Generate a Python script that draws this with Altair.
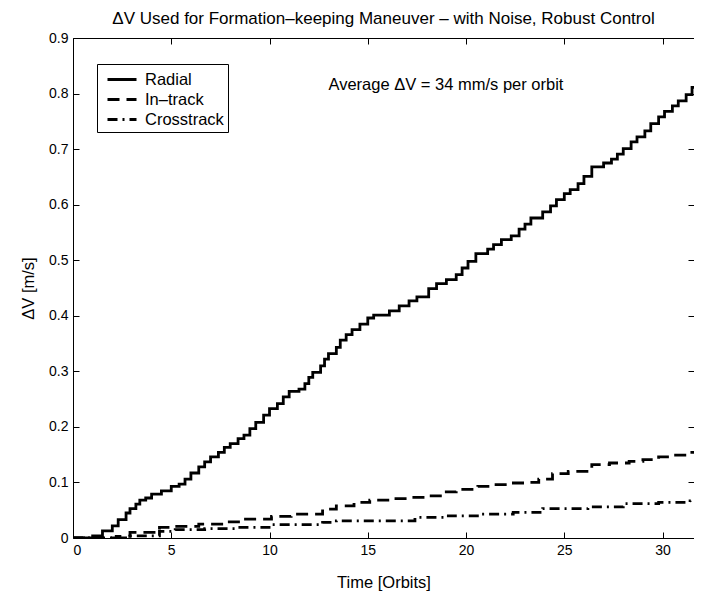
import altair as alt
import pandas as pd

# ---- data ----
radial_t = [0, 1.0, 1.5, 2.0, 2.3, 2.7, 2.9, 3.2, 3.4, 3.7, 4.0, 4.5, 5.0, 5.4, 5.7, 6.0, 6.4, 6.7,
            7.0, 7.4, 7.7, 8.0, 8.4, 8.7, 9.0, 9.3, 9.7, 10.0, 10.4, 10.7, 11.0, 11.5, 11.8, 12.0,
            12.2, 12.6, 12.8, 13.0, 13.4, 13.6, 13.9, 14.2, 14.6, 15.0, 15.3, 16.1, 16.6, 17.1,
            17.5, 18.1, 18.5, 19.0, 19.5, 19.8, 20.1, 20.5, 21.1, 21.4, 21.8, 22.3, 22.7, 23.0,
            23.3, 23.9, 24.3, 24.6, 25.0, 25.3, 25.7, 26.0, 26.4, 27.0, 27.4, 27.7, 28.0, 28.4,
            28.7, 29.1, 29.4, 29.8, 30.1, 30.5, 30.8, 31.2, 31.5, 31.7]
radial_v = [0, 0.004, 0.013, 0.022, 0.033, 0.045, 0.053, 0.061, 0.068, 0.072, 0.079, 0.085, 0.093,
            0.097, 0.106, 0.117, 0.128, 0.137, 0.146, 0.154, 0.163, 0.170, 0.179, 0.185, 0.197,
            0.208, 0.221, 0.233, 0.242, 0.254, 0.264, 0.268, 0.278, 0.289, 0.298, 0.310, 0.322,
            0.332, 0.343, 0.356, 0.366, 0.375, 0.385, 0.396, 0.401, 0.409, 0.418, 0.427, 0.434,
            0.449, 0.458, 0.465, 0.474, 0.486, 0.498, 0.512, 0.520, 0.528, 0.537, 0.544, 0.556,
            0.565, 0.576, 0.587, 0.598, 0.609, 0.620, 0.627, 0.638, 0.651, 0.668, 0.675, 0.682,
            0.691, 0.701, 0.713, 0.722, 0.733, 0.746, 0.758, 0.768, 0.778, 0.787, 0.798, 0.811,
            0.818]

intrack_t = [0, 2.2, 2.9, 4.4, 5.2, 6.4, 7.7, 8.7, 10.1, 11.1, 12.7, 13.4, 14.3, 15.1, 16.1,
             17.2, 17.9, 18.8, 19.5, 20.6, 21.3, 22.1, 23.1, 23.7, 24.4, 25.2, 26.4, 27.3,
             28.3, 29.0, 29.8, 30.5, 31.3, 31.7]
intrack_v = [0, 0.003, 0.010, 0.019, 0.021, 0.025, 0.029, 0.034, 0.039, 0.043, 0.052, 0.058,
             0.064, 0.068, 0.071, 0.073, 0.076, 0.083, 0.0875, 0.093, 0.096, 0.099, 0.100,
             0.106, 0.116, 0.120, 0.132, 0.135, 0.138, 0.141, 0.146, 0.149, 0.154, 0.155]

cross_t = [0, 2.9, 4.4, 5.2, 6.7, 8.4, 10.1, 12.7, 13.4, 17.4, 19.1, 20.7, 22.4, 23.9, 26.2,
           28.0, 29.8, 31.4, 31.7]
cross_v = [0, 0.004, 0.012, 0.015, 0.017, 0.019, 0.024, 0.028, 0.031, 0.037, 0.040, 0.043,
           0.046, 0.053, 0.056, 0.062, 0.064, 0.067, 0.067]

series_names = ["Radial", "In\u2013track", "Crosstrack"]
series_dash = [[1, 0], [12, 7], [10, 5, 2, 5]]

ann_x = [13.0]
ann_y = [0.815]
ann_text = ["Average \u0394V = 34 mm/s per orbit"]

x_ticks = [0, 5, 10, 15, 20, 25, 30]
y_ticks = [0, 0.1, 0.2, 0.3, 0.4, 0.5, 0.6, 0.7, 0.8, 0.9]

rows = []
for name, ts, vs in zip(series_names, [radial_t, intrack_t, cross_t], [radial_v, intrack_v, cross_v]):
    for i, (t, v) in enumerate(zip(ts, vs)):
        rows.append({"series": name, "t": t, "v": v, "order": i})
df = pd.DataFrame(rows)
ann_df = pd.DataFrame({"x": ann_x, "y": ann_y, "text": ann_text})

FONT = "Liberation Sans"
xscale = alt.Scale(domain=[0, 31.6], nice=False, zero=False)
yscale = alt.Scale(domain=[0, 0.9], nice=False)
ylabel_expr = "datum.value == 0 ? '0' : format(datum.value, '.1f')"

lines = alt.Chart(df).mark_line(interpolate="step-after", color="black", strokeWidth=2.8,
                                clip=True).encode(
    x=alt.X("t:Q", scale=xscale,
            axis=alt.Axis(values=x_ticks, title="Time [Orbits]", offset=-6, tickSize=6,
                          domain=False, grid=False, labelPadding=5, titlePadding=17,
                          tickColor="black", labelColor="black", titleColor="black",
                          labelFont=FONT, titleFont=FONT, labelFontSize=14, titleFontSize=16.5,
                          titleFontWeight="normal")),
    y=alt.Y("v:Q", scale=yscale,
            axis=alt.Axis(values=y_ticks, labelExpr=ylabel_expr, title="\u0394V [m/s]",
                          offset=-6, tickSize=6, domain=False, grid=False, labelPadding=5,
                          titlePadding=12, tickColor="black", labelColor="black",
                          titleColor="black", labelFont=FONT, titleFont=FONT,
                          labelFontSize=14, titleFontSize=16.5, titleFontWeight="normal")),
    strokeDash=alt.StrokeDash("series:N",
                              scale=alt.Scale(domain=series_names, range=series_dash),
                              legend=alt.Legend(title=None, orient="none", legendX=24, legendY=26,
                                                symbolType="M-0.5,0H2.4", symbolSize=400,
                                                symbolStrokeColor="black", symbolStrokeWidth=2.8,
                                                labelFont=FONT, labelFontSize=16.5,
                                                labelColor="black", labelOffset=21,
                                                strokeColor="black", fillColor="white",
                                                padding=4, rowPadding=0, cornerRadius=0)),
    detail="series:N",
    order="order:Q",
)

ann = alt.Chart(ann_df).mark_text(align="left", baseline="middle", font=FONT, fontSize=16.5,
                                  color="black").encode(
    x=alt.X("x:Q", scale=xscale,
            axis=alt.Axis(orient="top", values=x_ticks, labels=False, title=None, offset=-6,
                          tickSize=6, domain=False, grid=False, tickColor="black")),
    y=alt.Y("y:Q", scale=yscale,
            axis=alt.Axis(orient="right", values=y_ticks, labels=False, title=None, offset=-6,
                          tickSize=6, domain=False, grid=False, tickColor="black")),
    text="text:N",
)

chart = alt.layer(lines, ann).resolve_axis(x="independent", y="independent").properties(
    width=621, height=500,
    title=alt.TitleParams("\u0394V Used for Formation\u2013keeping Maneuver \u2013 with Noise, Robust Control",
                          font=FONT, fontSize=17, fontWeight="normal", color="black",
                          anchor="middle", offset=3),
    autosize=alt.AutoSizeParams(type="none"),
    padding={"left": 65, "top": 30, "right": 0, "bottom": 54},
).configure_view(stroke="black", strokeWidth=1)

chart.save("out.html", embed_options={"renderer": "svg", "actions": False})
